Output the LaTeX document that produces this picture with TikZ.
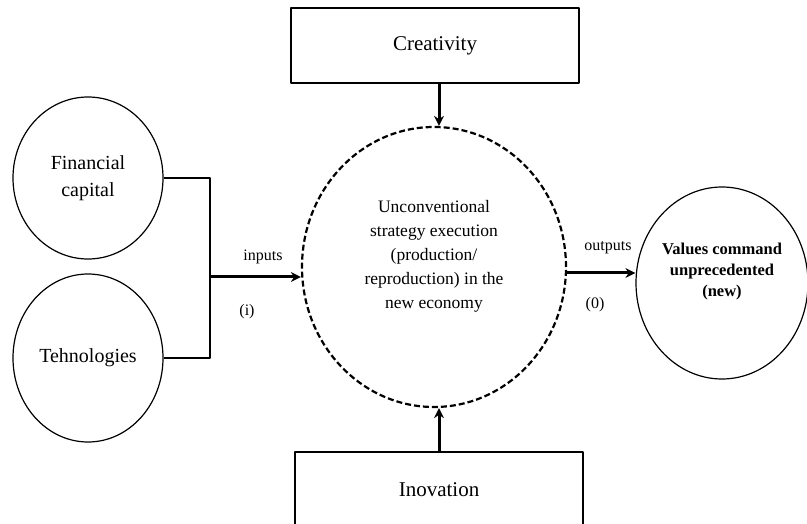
\documentclass[tikz,border=0pt]{standalone}
\usepackage{fontspec}
\setmainfont{Liberation Serif}
\usetikzlibrary{shapes.geometric,arrows.meta}

\begin{document}
\begin{tikzpicture}[x=1pt, y=-1pt, line join=round, >={Stealth[length=10pt,width=10pt]},
	bubble/.style={draw, ellipse, line width=1.2pt, inner sep=0pt, align=center, font=\fontsize{20}{27}\selectfont},
	box/.style={draw, rectangle, line width=1.6pt, minimum width=288, minimum height=75, font=\fontsize{21}{25}\selectfont},
	arr/.style={->, line width=3pt},
	wire/.style={line width=1.3pt},
	tag/.style={font=\fontsize{16}{18}\selectfont}]
	\useasboundingbox (0,0) rectangle (807,524);
	\clip (0,0) rectangle (807,524);
	% the two boxes
	\node[box] (crea) at (435,45.5) {Creativity};
	\node[box] (inov) at (439,489.5) {Inovation};
	% circles
	\node[bubble, minimum width=150, minimum height=162] (fin) at (88,178) {Financial\\capital};
	\node[bubble, minimum width=150, minimum height=168] (tech) at (88,358) {Tehnologies};
	\node[draw, ellipse, line width=2.2pt, dash pattern=on 6pt off 3pt, minimum width=264, minimum height=280,
		label={[align=center, yshift=11pt, font=\fontsize{17.5}{24}\selectfont]center:Unconventional\\strategy execution\\(production/\\reproduction) in the\\new economy}] (core) at (434,267) {};
	\node[bubble, minimum width=172, minimum height=192,
		label={[align=center, yshift=11pt, font=\bfseries\fontsize{16.5}{21}\selectfont]center:Values command\\unprecedented\\(new)}] (val) at (722,283) {};
	% connectors
	\coordinate (join) at (210,277);
	\draw[wire] (fin.east) -- (join |- fin.east) -- (join |- tech.east) -- (tech.east);
	\draw[arr] (join) -- (core.west |- join);
	\draw[arr] ([yshift=-6pt]core.east) -- ([yshift=-6pt]core.east -| val.west);
	\draw[arr] ([xshift=4pt]crea.south) -- ([xshift=4pt]crea.south |- core.north);
	\draw[arr] (inov.north) -- (inov.north |- core.south);
	% labels on the arrows
	\node[tag] (in) at (263,257) {inputs};
	\node[tag] (ini) at (247,312) {(i)};
	\node[tag] (out) at (608,248) {outputs};
	\node[tag] (outo) at (595,305) {(0)};
\end{tikzpicture}
\end{document}
